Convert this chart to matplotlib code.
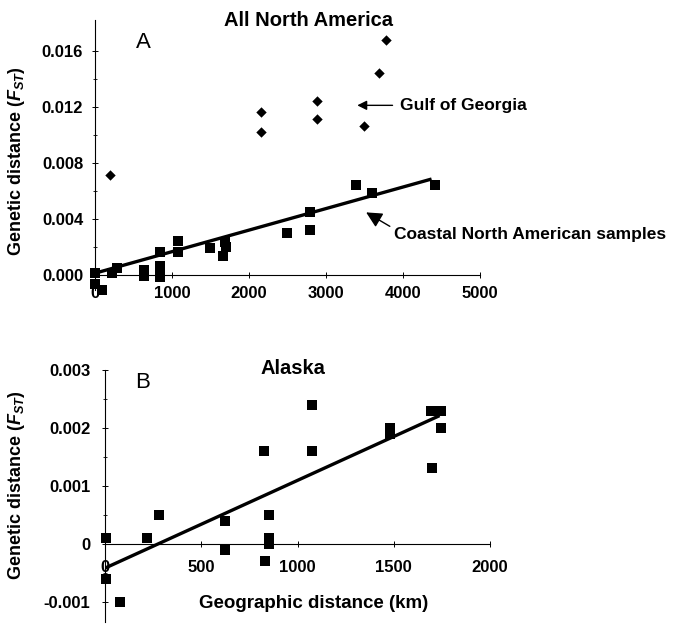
import numpy as np
import matplotlib as mpl
mpl.use('Agg')
import matplotlib.pyplot as plt

### data

# panel A: all North America
gulf_x = [200, 2150, 2150, 2880, 2880, 3490, 3690, 3780]
gulf_y = [0.0071, 0.0116, 0.0102, 0.0124, 0.0111, 0.0106, 0.0144, 0.0168]
coast_x = [0, 0, 90, 220, 290, 640, 640, 840, 840, 840, 840,
           1080, 1080, 1490, 1690, 1700, 1660, 2490, 2790, 2790, 3390, 3600, 4420]
coast_y = [0.0001, -0.0007, -0.0011, 0.0001, 0.0005, 0.0003, -0.0001, 0.0016, 0.0006, 0.0001, -0.0002,
           0.0024, 0.0016, 0.0019, 0.0023, 0.0020, 0.0013, 0.0030, 0.0045, 0.0032, 0.0064, 0.0058, 0.0064]
fitA_x = [0, 4350]
fitA_y = [0.0001, 0.0068]
xticksA = [0, 1000, 2000, 3000, 4000, 5000]
yticksA = [0.000, 0.004, 0.008, 0.012, 0.016]
yticklabelsA = ['0.000', '0.004', '0.008', '0.012', '0.016']

# panel B: Alaska
ak_x = [5, 5, 80, 220, 278, 623, 623, 828, 850, 850, 850, 830,
        1075, 1075, 1480, 1480, 1695, 1745, 1745, 1697]
ak_y = [0.0001, -0.0006, -0.0010, 0.0001, 0.0005, 0.0004, -0.0001, 0.0016, 0.0005, 0.0001, 0.0000, -0.0003,
        0.0024, 0.0016, 0.0020, 0.0019, 0.0023, 0.0023, 0.0020, 0.0013]
fitB_x = [0, 1730]
fitB_y = [-0.00042, 0.00220]
xticksB = [0, 500, 1000, 1500, 2000]
yticksB = [-0.001, 0, 0.001, 0.002, 0.003]
yticklabelsB = ['-0.001', '0', '0.001', '0.002', '0.003']

### style
plt.rcParams['font.family'] = ['Liberation Sans', 'DejaVu Sans']
plt.rcParams['font.weight'] = 'bold'
plt.rcParams['mathtext.fontset'] = 'custom'
plt.rcParams['mathtext.rm'] = 'Liberation Sans:bold'
plt.rcParams['mathtext.it'] = 'Liberation Sans:italic:bold'
ylabel = 'Genetic distance ($F_{ST}$)'

W, H = 681, 626
fig = plt.figure(figsize=(W/100., H/100.), dpi=100)

def pxaxes(left, top, right, bottom):
    ### make axes from pixel edges of the reference
    return fig.add_axes([left/W, 1-bottom/H, (right-left)/W, (bottom-top)/H])

def styleaxes(ax, xpad, ypad):
    # only left spine and a bottom spine sitting at y=0
    ax.spines['top'].set_visible(False)
    ax.spines['right'].set_visible(False)
    ax.spines['bottom'].set_position(('data', 0))
    ax.spines['left'].set_linewidth(0.8)
    ax.spines['left'].set_linestyle((0, (6, 1)))
    ax.spines['bottom'].set_linewidth(0.8)
    ax.tick_params(axis='x', direction='inout', length=4, width=0.7, pad=xpad, labelsize=12)
    ax.tick_params(axis='y', direction='inout', length=5, width=0.7, pad=ypad, labelsize=12)
    for lab in ax.get_xticklabels()+ax.get_yticklabels():
        lab.set_fontweight('bold')

### panel A
axA = pxaxes(95, 20, 480, 290)
axA.scatter(gulf_x, gulf_y, marker='D', s=28, color='black', linewidths=0, zorder=3, clip_on=False)
axA.scatter(coast_x, coast_y, marker='s', s=60, color='black', linewidths=0, zorder=3, clip_on=False)
axA.plot(fitA_x, fitA_y, color='black', lw=2.4, zorder=2)
axA.set_xlim(0, 5000)
axA.set_ylim(-0.0011, 0.0182)
axA.set_xticks(xticksA)
axA.set_yticks(yticksA)
axA.set_yticklabels(yticklabelsA)
axA.set_yticks(np.arange(0.002, 0.018, 0.004), minor=True)
axA.tick_params(axis='y', which='minor', direction='inout', length=3, width=0.6)
styleaxes(axA, 6, 6)
# annotations
axA.annotate('', xy=(3370, 0.0121), xytext=(3900, 0.0121),
             arrowprops=dict(arrowstyle='-|>', color='black', lw=1, mutation_scale=14))
axA.text(3960, 0.0121, 'Gulf of Georgia', ha='left', va='center', fontsize=12.5,
         fontweight='bold', clip_on=False)
axA.annotate('', xy=(3490, 0.00455), xytext=(3860, 0.00335),
             arrowprops=dict(arrowstyle='-|>', color='black', lw=1, mutation_scale=24))
axA.text(3880, 0.00285, 'Coastal North American samples', ha='left', va='center',
         fontsize=12.5, fontweight='bold', clip_on=False)

### panel B
axB = pxaxes(105, 370, 490, 622)
axB.scatter(ak_x, ak_y, marker='s', s=55, color='black', linewidths=0, zorder=3, clip_on=False)
axB.plot(fitB_x, fitB_y, color='black', lw=2.4, zorder=2)
axB.set_xlim(0, 2000)
axB.set_ylim(-0.00135, 0.003)
axB.set_xticks(xticksB)
axB.set_yticks(yticksB)
axB.set_yticklabels(yticklabelsB)
axB.set_yticks([-0.0005, 0.0005, 0.0015, 0.0025], minor=True)
axB.tick_params(axis='y', which='minor', direction='inout', length=3, width=0.6)
styleaxes(axB, 10, 8)

### figure texts
fig.text(308/W, 1-20/H, 'All North America', ha='center', va='center', fontsize=14.5, fontweight='bold')
fig.text(143/W, 1-43/H, 'A', ha='center', va='center', fontsize=16, fontweight='normal')
fig.text(17/W, 1-161/H, ylabel, ha='center', va='center', rotation=90, fontsize=13, fontweight='bold')
fig.text(293/W, 1-368/H, 'Alaska', ha='center', va='center', fontsize=14.5, fontweight='bold')
fig.text(143/W, 1-382/H, 'B', ha='center', va='center', fontsize=16, fontweight='normal')
fig.text(17/W, 1-485/H, ylabel, ha='center', va='center', rotation=90, fontsize=13, fontweight='bold')
fig.text(314/W, 1-603/H, 'Geographic distance (km)', ha='center', va='center', fontsize=13.5, fontweight='bold')

fig.savefig('out.png', dpi=100)
